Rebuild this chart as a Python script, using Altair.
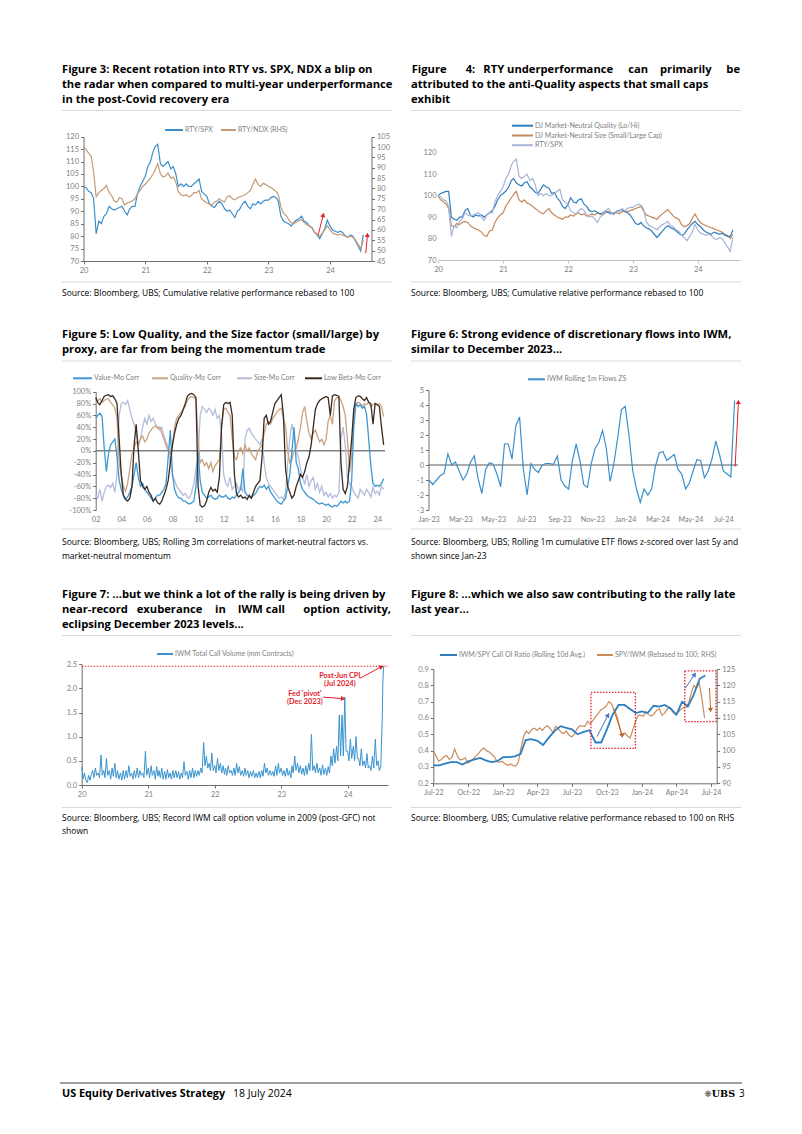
import altair as alt
import pandas as pd

W, H = 802, 1134
FONT = "Lato"
TFONT = "Open Sans"
TXT_GRAY = "#7F7F7F"
AXC = "#6E6E6E"
SEPC = "#D9D9D9"
RED = "#E4202A"

# ---------------- Figure 3 / 4 : semi-monthly points, Jan-2020 .. Jul-2024 ----------------
RTY_SPX = [100, 99.5, 98, 97.5, 95, 81, 86, 85, 88, 89, 92, 91, 90.5, 91, 91.5, 92, 90, 88.5, 91, 92, 92, 97, 100, 102,
           104, 108, 110, 114, 116, 117, 109, 108, 109, 110, 107, 108, 105, 100, 101, 100, 101, 100, 100, 101, 102, 103, 98, 97,
           96, 93, 92, 91.5, 93, 94, 93, 91, 90, 90.5, 89, 87.5, 90, 91, 93, 94, 92, 91, 93, 92.5, 94, 93, 94, 94.5,
           94.5, 95.5, 96, 95.5, 94, 88, 86, 85.5, 85, 84, 85.5, 86.5, 87, 88, 86, 85.5, 84, 83.5, 81.5, 80.5, 79, 81, 83, 86.5,
           84, 82.5, 82, 81.5, 82, 81.5, 80, 79.5, 80.5, 80, 78, 76, 74, 80.5]
RTY_NDX = [100, 99, 97, 95.5, 88, 76, 78, 79, 80, 81.5, 78, 76.5, 74, 73.5, 75.5, 75, 72, 73, 73.5, 74, 75, 77.5, 79, 81,
           82, 83.5, 85, 87, 89, 92, 87, 85.5, 86, 87.5, 85, 85.5, 83, 78.5, 77, 76.5, 77, 76, 76.5, 78, 78, 79, 75, 74,
           73, 72.5, 72, 73.5, 74, 75, 74, 73.5, 76, 76.5, 75, 74.5, 75.5, 76, 76.5, 77, 78, 79, 82, 84.5, 82, 81, 82.5, 82,
           81, 80.5, 79.5, 78.5, 77, 71, 68, 67, 65, 63.5, 63, 64, 64.5, 65, 63.5, 62.5, 62, 61, 59, 58, 57, 58.5, 60, 62,
           60, 58.5, 58, 57.5, 58, 57.5, 57, 56.5, 57, 56.5, 55, 53, 51, 55]
DJ_QUALITY = [100, 101, 101.5, 102, 102, 90, 89, 88.5, 90, 90, 93, 94, 91, 90, 91, 90.5, 91, 90, 91, 92, 93, 95, 98, 100,
              101, 102, 104, 107, 108, 106, 105, 104.5, 106, 106.5, 104, 103, 101.5, 101, 103, 105, 104, 103.5, 101, 101.5, 99, 97.5, 95, 94,
              96, 99, 97, 96.5, 98, 98.5, 96, 95, 93, 92.5, 93, 92, 91.5, 92, 93, 92, 91.5, 92, 92.5, 93, 93.5, 92.5, 92, 91,
              89, 87, 86.5, 87.5, 86, 85, 84.5, 83.5, 82, 80.5, 82, 83.5, 85, 86, 85, 84.5, 83.5, 82.5, 81.5, 82, 84, 85.5, 87, 88,
              86.5, 85.5, 84, 83, 82.5, 82, 83, 82.5, 82, 82.5, 81.5, 81, 81, 84]
DJ_SIZE = [100, 98, 97, 96, 94, 86, 85.5, 87, 86.5, 87.5, 88, 87.5, 86, 85, 84.5, 84, 83, 81.5, 81, 83.5, 84, 87.5, 89.5, 91,
           92, 95, 97, 99, 100.5, 102, 98, 97, 98, 96.5, 96, 95, 94, 93, 92, 91.5, 93, 94, 92, 91, 90, 89.5, 89, 90,
           90, 91, 90.5, 91.5, 92, 91, 91.5, 90.5, 91, 91.5, 91, 92, 91.5, 91, 92, 92.5, 92, 91.5, 92, 91.5, 92.5, 93, 92.5, 93,
           93.5, 94, 94.5, 95, 93, 91, 90.5, 90, 89.5, 89, 90.5, 91.5, 92.5, 93.5, 92, 90.5, 89.5, 89, 86.5, 85.5, 86, 87, 89.5, 91.5,
           89, 87.5, 86.5, 86, 85.5, 85, 84.5, 84, 83.5, 83, 82, 81.5, 80, 82]

# ---------------- Figure 5 : one point every two months, Jan-2002 .. Jul-2024 (%) ----------------
VALUE_MO = [55, 60, 64, 58, 5, -35, -5, 10, 15, 20, -10, -50, -65, -75, -82, -78, -70, -60,
            -40, -20, -45, -60, -55, -65, -70, -75, -80, -85, -80, -75, -75, -70, -65, -55, -10, 35,
            -40, -65, -75, -80, -80, -85, -85, -88, -90, -88, -85, -60, 0, -50, -70, -75, -80, -78,
            -75, -80, -82, -80, -75, -78, -78, -75, -80, -82, -78, -80, -75, -70, -65, -30, -70, -75,
            -78, -80, -75, -72, -65, -60, -62, -58, -65, -60, -70, -75, -80, -85, -88, -90, -85, -80,
            -60, -40, 0, 40, -20, -30, -55, -65, -70, -75, -78, -80, -82, -85, -88, -90, -88, -90,
            -92, -90, -93, -95, -92, -94, -90, -85, -88, -85, -88, -85, -50, 40, 80, 75, 78, 72,
            75, 62, 20, -25, -55, -60, -58, -60, -55, -47]
QUALITY_MO = [78, 85, 88, 82, 85, 88, 88, 82, 78, 72, 55, -20, -40, -60, -68, -55, -30, -5,
              5, 15, 10, 20, 25, 15, 20, 30, 35, 40, 42, 38, 40, 30, 20, 10, 0, -5,
              10, 40, 55, 60, 65, 70, 75, 85, 90, 92, 90, 88, 20, -20, -15, -25, -20, -30,
              -20, -35, -25, -20, -15, 40, 70, 72, 65, 60, 20, -10, -15, 0, 5, -5, 10, 0,
              5, -5, -10, -15, 0, 5, 10, 30, 45, 50, 45, 55, 60, 65, 70, 72, 55, 40,
              0, -20, -15, 0, 5, 20, 40, 65, 75, 50, 30, 20, 30, 35, 25, 15, 20, 10,
              20, 50, 60, 45, 85, 90, 90, 85, 75, 60, 20, -35, -10, 60, 78, 82, 80, 75,
              80, 78, 82, 75, 78, 80, 78, 80, 75, 58]
SIZE_MO = [-75, -80, -65, -85, -70, -60, -58, -62, -55, -70, -40, 60, 80, 82, 78, 85, 70, 55,
           45, 30, 10, 20, 40, 55, 45, 60, 50, 55, 45, 40, 35, 40, 25, 15, 5, -20,
           -40, -50, -60, -65, -70, -75, -72, -78, -80, -70, -55, -30, -10, 60, 75, 70, 65, 72,
           68, 60, 70, 55, 60, 30, -40, -55, -60, -45, -65, -60, -55, -65, -60, -70, 20, 35,
           38, 30, 25, 20, 15, 10, 20, -20, -45, -55, -60, -65, -70, -75, -80, -78, -82, -70,
           -20, 20, 45, 30, 0, -10, -30, -45, -55, -40, -60, -50, -45, -65, -55, -70, -60, -75,
           -70, -78, -72, -80, -75, -78, -70, 20, 40, 10, -45, -55, -60, -70, -75, -80, -65, -70,
           -75, -65, -70, -78, -62, -72, -68, -75, -60, -65]
LOWBETA_MO = [90, 82, 78, 85, 92, 94, 95, 92, 93, 88, 80, 20, -40, -75, -82, -85, -80, -60,
              10, 45, 0, -50, -60, -65, -60, -70, -75, -85, -80, -88, -90, -85, -75, -65, -50, -20,
              10, 30, 45, 55, 60, 70, 80, 92, 96, 97, 95, 90, -60, -92, -95, -93, -85, -70,
              -62, -68, -65, -70, -45, 40, 78, 82, 80, 82, 60, -40, -72, -78, -75, -80, -78, -82,
              -75, -80, -70, -60, -55, -50, -10, 55, 60, 45, 50, 65, 80, 85, 90, 95, 60, -30,
              -60, -70, -80, -75, -60, -50, -40, -45, -35, -20, -10, 10, 40, 70, 80, 85, 88, 90,
              92, 90, 60, 93, 95, 94, 92, -20, -65, -72, -60, -20, 20, 70, 90, 93, 92, 88,
              85, 90, 82, 80, 45, 80, 78, 75, 40, 10]

# ---------------- Figure 6 : weekly points from 2-Jan-2023 ----------------
IWM_FLOWS_ZS = [-1.0, -1.3, -1.0, -0.7, -0.55, 0.75, 0.0, 0.2, -0.4, -1.0,
                -0.6, 0.2, 0.6, -0.9, -1.9, -0.3, 0.15, 0.05, -0.6, -1.45,
                1.4, 1.4, 0.4, 2.6, 3.2, -0.3, -2.0, 0.1, -0.3, -0.5,
                0.0, 0.1, 0.1, 0.05, 0.6, -1.0, -1.4, -1.6, 0.3, 1.4,
                0.3, -1.3, -1.5, 0.1, 1.1, 1.5, 2.3, 1.1, -1.1, 0.1,
                1.8, 3.7, 3.9, 2.0, -0.4, -1.6, -2.5, -1.6, -2.0, -1.6,
                -0.1, 0.8, 0.9, 0.3, 0.5, 0.7, -0.3, -0.6, -1.6, -1.2,
                -0.4, 0.35, 0.3, -0.85, -0.4, 0.4, 1.6, 0.7, -0.4, -0.6,
                -0.8, 4.3]

# ---------------- Figure 7 : four points a month (1st, 8th, 16th, 23rd) Jan-2020 .. 1-Jul-2024, then last days ----------------
IWM_CALL_VOL = [
    0.38, 0.12, 0.25, 0.10, 0.05, 0.20, 0.10, 0.22, 0.30, 0.15, 0.35, 0.20, 0.25, 0.15, 0.62, 0.20,
    0.30, 0.15, 0.55, 0.20, 0.30, 0.12, 0.35, 0.18, 0.45, 0.15, 0.30, 0.12, 0.25, 0.10, 0.30, 0.12,
    0.30, 0.15, 0.40, 0.18, 0.25, 0.12, 0.30, 0.15, 0.35, 0.15, 0.30, 0.20, 0.25, 0.15, 0.70, 0.20,
    0.35, 0.15, 0.40, 0.20, 0.30, 0.12, 0.38, 0.18, 0.30, 0.15, 0.35, 0.12, 0.28, 0.12, 0.32, 0.15,
    0.25, 0.12, 0.30, 0.15, 0.30, 0.15, 0.28, 0.12, 0.25, 0.15, 0.48, 0.20, 0.28, 0.12, 0.30, 0.15,
    0.35, 0.15, 0.30, 0.18, 0.30, 0.20, 0.35, 0.25, 0.88, 0.40, 0.60, 0.35, 0.45, 0.30, 0.66, 0.30,
    0.40, 0.25, 0.55, 0.30, 0.45, 0.25, 0.40, 0.22, 0.35, 0.20, 0.40, 0.25, 0.30, 0.20, 0.35, 0.20,
    0.45, 0.25, 0.38, 0.20, 0.30, 0.18, 0.35, 0.20, 0.30, 0.15, 0.28, 0.18, 0.30, 0.15, 0.25, 0.15,
    0.28, 0.15, 0.30, 0.18, 0.45, 0.25, 0.35, 0.20, 0.30, 0.20, 0.28, 0.18, 0.40, 0.20, 0.45, 0.25,
    0.35, 0.20, 0.30, 0.18, 0.35, 0.20, 0.30, 0.15, 0.40, 0.25, 0.60, 0.30, 0.45, 0.25, 0.40, 0.22,
    0.35, 0.20, 0.40, 0.22, 0.45, 0.30, 1.05, 0.30, 0.40, 0.25, 0.45, 0.25, 0.35, 0.20, 0.42, 0.22,
    0.35, 0.20, 0.38, 0.25, 0.60, 0.40, 0.75, 0.45, 0.80, 0.50, 1.45, 0.60, 1.45, 0.60, 1.82, 0.70,
    0.70, 0.50, 0.95, 0.55, 0.80, 0.50, 1.00, 0.55, 0.55, 0.40, 0.75, 0.40, 0.50, 0.35, 0.65, 0.35,
    0.40, 0.30, 0.60, 0.35, 0.95, 0.40, 0.50, 0.30, 0.40]
CALL_VOL_LAST_DATES = ["2024-07-09", "2024-07-12", "2024-07-16"]
CALL_VOL_LAST = [1.4, 2.1, 2.46]

# ---------------- Figure 8 ----------------
# IWM/SPY call OI ratio: semi-monthly points from Jul-2022
OI_RATIO = [0.31, 0.31, 0.32, 0.33, 0.33, 0.315, 0.335, 0.345, 0.355, 0.34,
            0.33, 0.335, 0.36, 0.36, 0.365, 0.38, 0.465, 0.47, 0.46, 0.435,
            0.48, 0.52, 0.55, 0.54, 0.53, 0.50, 0.515, 0.525, 0.45, 0.45,
            0.53, 0.62, 0.68, 0.68, 0.655, 0.63, 0.64, 0.63, 0.675, 0.67,
            0.68, 0.66, 0.62, 0.70, 0.67, 0.74, 0.84, 0.86]
# SPY/IWM rebased: weekly points from 1-Jul-2022
SPY_IWM = [100, 98.4, 96.8, 97.3, 98.1, 98.5, 97.3, 97.9, 100.5, 98.5,
           97.2, 97.3, 97.8, 96.2, 96.7, 97.5, 98.3, 99.1, 100.2, 100.8,
           100, 99.6, 98.9, 98.1, 96.6, 96.5, 96.7, 95.9, 95.5, 95.9,
           95.5, 95.3, 96.5, 101, 104.4, 106, 105.2, 106.5, 106.9, 106.2,
           107, 106.2, 107.2, 107.6, 106.7, 105.5, 107.5, 106.8, 105.6, 105.2,
           106, 104.8, 104.2, 105, 106.6, 107.6, 107.6, 107.4, 109, 108.2,
           109.2, 110.4, 111.3, 112.5, 112.9, 113.6, 115, 114.3, 112.5, 110.8,
           107.6, 104.4, 105.4, 104.5, 103.9, 106.3, 108.7, 110.8, 110.8, 110.6,
           111.9, 111.1, 110.6, 111.3, 112.3, 112.8, 110.8, 111.5, 112.8, 113.1,
           111.9, 111.1, 111.7, 112.6, 113.2, 113.4, 114.6, 117.6, 120, 119.2,
           120.7, 116, 110]


# ---------------- helpers ----------------
def monthly_days(y, m, n, days):
    out = []
    while len(out) < n:
        for day in days:
            if len(out) < n:
                out.append(pd.Timestamp(y, m, day))
        m += 1
        if m == 13:
            m, y = 1, y + 1
    return out


def semimonthly(y, m, n):
    return monthly_days(y, m, n, (1, 16))


def bimonthly(y, n):
    out = []
    while len(out) < n:
        for m in (1, 3, 5, 7, 9, 11):
            if len(out) < n:
                out.append(pd.Timestamp(y, m, 1))
        y += 1
    return out


def DT(s):
    t = pd.Timestamp(s)
    return alt.DateTime(year=t.year, month=t.month, date=t.day)


def tsc(d0, d1, r0, r1):
    return alt.Scale(type="time", domain=[DT(d0), DT(d1)], range=[r0, r1], nice=False)


def qsc(v0, v1, rb, rt):
    return alt.Scale(type="linear", domain=[v0, v1], range=[rb, rt], nice=False, zero=False)


def xax(ypix, values, fmt, domain=True, ticks=True, size=7.5, pad=2, dcolor=AXC):
    return alt.Axis(orient="bottom", offset=-(H - ypix), values=values, format=fmt,
                    domain=domain, ticks=ticks, tickSize=3 if ticks else 0, labelPadding=pad,
                    labelFlush=False, labelOverlap=False, labelAngle=0, labelFontSize=size,
                    labelFont=FONT, labelColor=TXT_GRAY, domainColor=dcolor, tickColor=dcolor,
                    grid=False, title=None)


def yax(side, xpix, values, fmt=None, expr=None, domain=True, ticks=True, size=7.5):
    off = -xpix if side == "left" else -(W - xpix)
    kw = dict(orient=side, offset=off, values=values, domain=domain, ticks=ticks,
              tickSize=3 if ticks else 0, labelPadding=2, labelFlush=False, labelOverlap=False,
              labelFontSize=size, labelFont=FONT, labelColor=TXT_GRAY, domainColor=AXC,
              tickColor=AXC, grid=False, title=None)
    if fmt:
        kw["format"] = fmt
    if expr:
        kw["labelExpr"] = expr
    return alt.Axis(**kw)


ONE = alt.InlineData(values=[{"k": 0}])
layers = []
TSIZE = 11.2


def txt(s, x, y, size=8.5, weight="normal", color="#000000", align="left", font=TFONT):
    layers.append(alt.Chart(ONE).mark_text(text=s, align=align, baseline="middle", font=font,
                                           fontSize=size, fontWeight=weight, color=color)
                  .encode(x=alt.value(x), y=alt.value(y)))


def title(lines, x, y0, step):
    for i, s in enumerate(lines):
        if isinstance(s, str):
            txt(s, x, y0 + step * i, size=TSIZE, weight="bold")
        else:  # justified line: list of (word, x) and a final right-aligned word
            words, last = s
            for wd, wx in words:
                txt(wd, wx, y0 + step * i, size=TSIZE, weight="bold")
            txt(last[0], last[1], y0 + step * i, size=TSIZE, weight="bold", align="right")


def hline(x0, x1, y, color=SEPC, w=1):
    layers.append(alt.Chart(ONE).mark_rule(color=color, strokeWidth=w)
                  .encode(x=alt.value(x0), x2=alt.value(x1), y=alt.value(y)))


def legend(x0, x1, y, color, label, w=2):
    hline(x0, x1, y, color=color, w=w)
    txt(label, x1 + 2, y, size=7, color=TXT_GRAY, font=FONT)


def arrow(p0, p1, xs, ys, color, angle, w=1, size=26):
    df = pd.DataFrame({"x0": [pd.Timestamp(p0[0])], "y0": [p0[1]],
                       "x1": [pd.Timestamp(p1[0])], "y1": [p1[1]]})
    layers.append(alt.Chart(df).mark_rule(color=color, strokeWidth=w).encode(
        x=alt.X("x0:T", scale=xs, axis=None), x2="x1:T",
        y=alt.Y("y0:Q", scale=ys, axis=None), y2="y1:Q"))
    layers.append(alt.Chart(df).mark_point(shape="triangle-up", filled=True, color=color, size=size,
                                           angle=angle, opacity=1).encode(
        x=alt.X("x1:T", scale=xs, axis=None), y=alt.Y("y1:Q", scale=ys, axis=None)))


def line(df, field, color, xs, ys, xaxis=None, yaxis=None, w=1.2):
    layers.append(alt.Chart(df).mark_line(color=color, strokeWidth=w).encode(
        x=alt.X("d:T", scale=xs, axis=xaxis), y=alt.Y(f"{field}:Q", scale=ys, axis=yaxis)))


YEARS20 = [DT(f"{y}-01-01") for y in range(2020, 2025)]

# ================= page frame =================
for x0, x1 in ((62, 392), (411, 741)):
    hline(x0, x1, 110.5)
    hline(x0, x1, 282)
    hline(x0, x1, 361)
    hline(x0, x1, 529)
    hline(x0, x1, 635.5)
    hline(x0, x1, 807.5)

# ================= Figure 3 =================
title(["Figure 3: Recent rotation into RTY vs. SPX, NDX a blip on",
       "the radar when compared to multi-year underperformance",
       "in the post-Covid recovery era"], 62, 70, 15)
txt("Source: Bloomberg, UBS; Cumulative relative performance rebased to 100", 62, 293)
legend(165, 183, 130, "#3D8FCB", "RTY/SPX")
legend(221, 236, 130, "#C39B77", "RTY/NDX (RHS)")

X3 = tsc("2020-01-01", "2024-09-03", 83.5, 371.5)
Y3L = qsc(70, 120, 261, 136.7)
Y3R = qsc(45, 105, 261, 136.7)
d3 = pd.DataFrame({"d": semimonthly(2020, 1, len(RTY_SPX)), "a": RTY_SPX, "b": RTY_NDX})
line(d3, "a", "#3D8FCB", X3, Y3L, xax(261, YEARS20, "%y"), yax("left", 83.5, list(range(70, 121, 5))))
line(d3, "b", "#C39B77", X3, Y3R, None, yax("right", 371.5, list(range(45, 106, 5))))
arrow(("2023-10-23", 80.5), ("2023-11-22", 88.5), X3, Y3L, RED, 14)
arrow(("2024-07-31", 73.1), ("2024-08-10", 80.5), X3, Y3L, RED, 5)

# ================= Figure 4 =================
title([([("Figure", 411.7), ("4:", 465.7), ("RTY underperformance", 483.3), ("can", 628.3),
         ("primarily", 660)], ("be", 740)),
       "attributed to the anti-Quality aspects that small caps",
       "exhibit"], 411, 70, 15)
txt("Source: Bloomberg, UBS; Cumulative relative performance rebased to 100", 411, 293)
legend(512, 533, 125.7, "#2F7FBF", "DJ Market-Neutral Quality (Lo/Hi)")
legend(512, 533, 135.5, "#C4895C", "DJ Market-Neutral Size (Small/Large Cap)")
legend(512, 533, 145.2, "#A8B4D8", "RTY/SPX")

X4 = tsc("2020-01-01", "2024-08-25", 438, 740)
Y4 = qsc(70, 120, 260, 152.7)
d4 = pd.DataFrame({"d": semimonthly(2020, 1, len(DJ_QUALITY)), "q": DJ_QUALITY, "s": DJ_SIZE, "r": RTY_SPX})
line(d4, "s", "#C4895C", X4, Y4, xax(260, YEARS20, "%y", dcolor="#BFBFBF"),
     yax("left", 438, list(range(70, 121, 10)), domain=False, ticks=False))
line(d4, "q", "#2F7FBF", X4, Y4)
line(d4, "r", "#A8B4D8", X4, Y4)

# ================= Figure 5 =================
title(["Figure 5: Low Quality, and the Size factor (small/large) by",
       "proxy, are far from being the momentum trade"], 62, 335, 14.5)
txt("Source: Bloomberg, UBS; Rolling 3m correlations of market-neutral factors vs.", 62, 542)
txt("market-neutral momentum", 62, 556)
legend(73, 92, 378.3, "#3E98D3", "Value-Mo Corr")
legend(152, 168, 378.3, "#CBA27F", "Quality-Mo Corr")
legend(237, 252, 378.3, "#B3BCDB", "Size-Mo Corr")
legend(305, 322, 378.3, "#3A2920", "Low Beta-Mo Corr")

X5 = tsc("2002-01-01", "2025-01-01", 95.7, 390.1)
Y5 = qsc(-100, 100, 510, 391.7)
d5 = pd.DataFrame({"d": bimonthly(2002, len(VALUE_MO)), "v": VALUE_MO, "q": QUALITY_MO,
                   "s": SIZE_MO, "b": LOWBETA_MO})
layers.append(alt.Chart(pd.DataFrame({"z": [0]})).mark_rule(color="#808080", strokeWidth=1.5).encode(
    x=alt.value(95.7), x2=alt.value(385), y=alt.Y("z:Q", scale=Y5, axis=None)))
line(d5, "s", "#B3BCDB", X5, Y5,
     xax(510, [DT(f"{y}-01-01") for y in range(2002, 2025, 2)], "%y", domain=False, ticks=False, pad=5),
     yax("left", 95.7, list(range(-100, 101, 20)), expr="datum.value + '%'"), w=1.3)
line(d5, "q", "#CBA27F", X5, Y5, w=1.3)
line(d5, "v", "#3E98D3", X5, Y5, w=1.3)
line(d5, "b", "#3A2920", X5, Y5, w=1.3)

# ================= Figure 6 =================
title(["Figure 6: Strong evidence of discretionary flows into IWM,",
       "similar to December 2023..."], 411, 335, 14.5)
txt("Source: Bloomberg, UBS; Rolling 1m cumulative ETF flows z-scored over last 5y and", 411, 542)
txt("shown since Jan-23", 411, 556)
legend(528, 545, 379.3, "#3A90CC", "IWM Rolling 1m Flows ZS")

X6 = tsc("2023-01-01", "2024-08-01", 428.5, 740)
Y6 = qsc(-3, 5, 510, 390)
d6 = pd.DataFrame({"d": pd.date_range("2023-01-02", periods=len(IWM_FLOWS_ZS), freq="7D"), "v": IWM_FLOWS_ZS})
layers.append(alt.Chart(pd.DataFrame({"z": [0]})).mark_rule(color="#595959", strokeWidth=1).encode(
    x=alt.value(428.5), x2=alt.value(738), y=alt.Y("z:Q", scale=Y6, axis=None)))
months6 = [DT(f"{y}-{m:02d}-01") for y, m in [(2023, 1), (2023, 3), (2023, 5), (2023, 7), (2023, 9), (2023, 11),
                                              (2024, 1), (2024, 3), (2024, 5), (2024, 7)]]
line(d6, "v", "#3A90CC", X6, Y6,
     xax(510, months6, "%b-%y", domain=False, ticks=False, pad=5, size=7.2),
     yax("left", 428.5, list(range(-3, 6)), expr="'' + datum.value"))
arrow(("2024-07-23", -0.1), ("2024-07-29", 4.2), X6, Y6, RED, 3)

# ================= Figure 7 =================
title(["Figure 7: ...but we think a lot of the rally is being driven by",
       ([("near-record", 62), ("exuberance", 136.7), ("in", 215), ("IWM call", 237.7),
         ("option", 303.3)], ("activity,", 391)),
       "eclipsing December 2023 levels..."], 62, 595, 15)
txt("Source: Bloomberg, UBS; Record IWM call option volume in 2009 (post-GFC) not", 62, 818)
txt("shown", 62, 831)
legend(157, 173, 654, "#3A93CF", "IWM Total Call Volume (mm Contracts)")

X7 = tsc("2020-01-01", "2024-08-10", 81.7, 388.1)
Y7 = qsc(0, 2.5, 785, 664.3)
d7 = pd.DataFrame({"d": monthly_days(2020, 1, len(IWM_CALL_VOL), (1, 8, 16, 23))
                        + [pd.Timestamp(s) for s in CALL_VOL_LAST_DATES],
                   "v": IWM_CALL_VOL + CALL_VOL_LAST})
peak = pd.DataFrame({"a": [pd.Timestamp("2020-01-01")], "b": [pd.Timestamp("2024-08-10")], "v": [max(CALL_VOL_LAST)]})
layers.append(alt.Chart(peak).mark_rule(color=RED, strokeWidth=1, strokeDash=[1.5, 1.5]).encode(
    x=alt.X("a:T", scale=X7, axis=None), x2="b:T", y=alt.Y("v:Q", scale=Y7, axis=None)))
line(d7, "v", "#3A93CF", X7, Y7, xax(785, YEARS20, "%y"),
     yax("left", 81.7, [0, 0.5, 1.0, 1.5, 2.0, 2.5], fmt=".1f"), w=1.0)
ann7 = pd.DataFrame({"d": [pd.Timestamp("2023-11-19")] * 2 + [pd.Timestamp("2023-05-11")] * 2,
                     "v": [2.26, 2.10, 1.88, 1.72],
                     "t": ["Post-Jun CPI", "(Jul 2024)", "Fed 'pivot'", "(Dec 2023)"]})
layers.append(alt.Chart(ann7).mark_text(font=FONT, fontSize=7.3, fontWeight="bold", color=RED,
                                        align="center", baseline="middle").encode(
    x=alt.X("d:T", scale=X7, axis=None), y=alt.Y("v:Q", scale=Y7, axis=None), text="t:N"))
arrow(("2023-08-20", 1.82), ("2023-12-07", 1.79), X7, Y7, RED, 93)
arrow(("2024-03-08", 2.21), ("2024-07-05", 2.45), X7, Y7, RED, 62)

# ================= Figure 8 =================
title(["Figure 8: ...which we also saw contributing to the rally late",
       "last year..."], 411, 595, 15)
txt("Source: Bloomberg, UBS; Cumulative relative performance rebased to 100 on RHS", 411, 818)
legend(440, 457, 655, "#2B7FC0", "IWM/SPY Call OI Ratio (Rolling 10d Avg.)")
legend(597, 613, 655, "#C98C5A", "SPY/IWM (Rebased to 100; RHS)")

X8 = tsc("2022-07-01", "2024-07-16", 433.3, 716.7)
Y8L = qsc(0.2, 0.9, 783.3, 669)
Y8R = qsc(90, 125, 783.3, 669)
d8a = pd.DataFrame({"d": semimonthly(2022, 7, len(OI_RATIO)), "r": OI_RATIO})
d8b = pd.DataFrame({"d": pd.date_range("2022-07-01", periods=len(SPY_IWM), freq="7D"), "s": SPY_IWM})
q8 = [DT(f"{y}-{m:02d}-01") for y, m in [(2022, 7), (2022, 10), (2023, 1), (2023, 4), (2023, 7), (2023, 10),
                                          (2024, 1), (2024, 4), (2024, 7)]]
line(d8b, "s", "#C98C5A", X8, Y8R, xax(783.3, q8, "%b-%y", size=7.2),
     yax("right", 716.7, list(range(90, 126, 5))))
line(d8a, "r", "#2B7FC0", X8, Y8L, None,
     yax("left", 433.3, [0.2, 0.3, 0.4, 0.5, 0.6, 0.7, 0.8, 0.9], fmt=".1f"), w=1.8)
boxes = pd.DataFrame({"a": [pd.Timestamp("2023-08-20"), pd.Timestamp("2024-04-23")],
                      "b": [pd.Timestamp("2023-12-15"), pd.Timestamp("2024-07-14")],
                      "lo": [0.414, 0.578], "hi": [0.757, 0.888]})
layers.append(alt.Chart(boxes).mark_rect(fillOpacity=0, stroke=RED, strokeWidth=1.3, strokeDash=[1.5, 1.5]).encode(
    x=alt.X("a:T", scale=X8, axis=None), x2="b:T", y=alt.Y("lo:Q", scale=Y8L, axis=None), y2="hi:Q"))
arrow(("2023-09-05", 0.486), ("2023-10-04", 0.618), X8, Y8L, "#4472C4", 27)
arrow(("2023-10-18", 0.659), ("2023-11-10", 0.492), X8, Y8L, "#C0652B", 163)
arrow(("2024-04-24", 0.782), ("2024-05-19", 0.867), X8, Y8L, "#4472C4", 34)
arrow(("2024-06-27", 0.784), ("2024-06-30", 0.649), X8, Y8L, "#C0652B", 177)

# ================= footer =================
hline(60, 742, 1083, color="#404040", w=1)
txt("US Equity Derivatives Strategy", 62, 1094, size=10.8, weight="bold")
txt("18 July 2024", 233, 1094, size=10.5)
txt("\u274B", 708, 1094, size=9, color="#555555", align="center", font="DejaVu Sans")
txt("UBS", 735, 1094, size=9.5, weight="bold", font="DejaVu Serif", align="right")
txt("3", 739, 1094, size=10)

chart = (alt.layer(*layers)
         .resolve_scale(x="independent", y="independent")
         .resolve_axis(x="independent", y="independent")
         .properties(width=W, height=H, padding=0, background="white",
                     autosize=alt.AutoSizeParams(type="none"))
         .configure_view(strokeWidth=0))
chart.save("out.html", embed_options={"renderer": "svg", "actions": False})
